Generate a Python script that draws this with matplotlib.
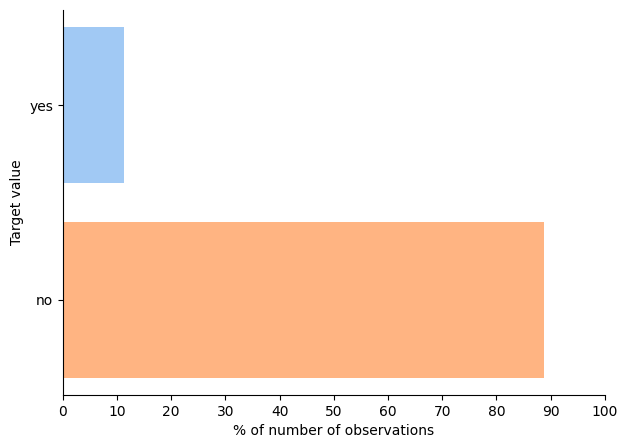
import matplotlib as mpl
mpl.use('Agg')
import matplotlib.pyplot as plt

# target value distribution (% of observations)
categories = ['no', 'yes']
percents = [88.73, 11.27]
colors = ['#ffb482', '#a1c9f4']

fig = plt.figure(figsize=(6.28, 4.48), dpi=100)
ax = fig.add_axes([0.100, 0.118, 0.863, 0.860])

ax.barh(categories, percents, color=colors, height=0.8)
ax.set_xlim(0, 100)
ax.set_xticks(range(0, 101, 10))
ax.set_xlabel('% of number of observations')
ax.set_ylabel('Target value')
ax.spines['top'].set_visible(False)
ax.spines['right'].set_visible(False)

plt.savefig('out.png')
